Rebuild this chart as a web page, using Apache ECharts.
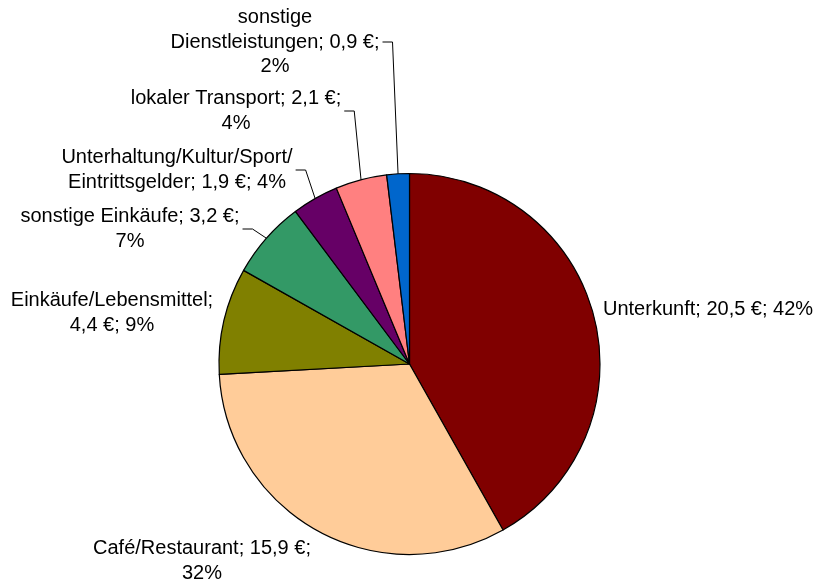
<!DOCTYPE html>
<html>
<head>
<meta charset="utf-8">
<script src="https://cdn.jsdelivr.net/npm/echarts@6/dist/echarts.min.js"></script>
<style>
  html, body { margin: 0; padding: 0; background: #ffffff; }
  #chart { width: 814px; height: 585px; }
</style>
</head>
<body>
<div id="chart"></div>
<script>
// Spending per category (€), clockwise from 12 o'clock
const categories = [
  'Unterkunft',
  'Café/Restaurant',
  'Einkäufe/Lebensmittel',
  'sonstige Einkäufe',
  'Unterhaltung/Kultur/Sport/\nEintrittsgelder',
  'lokaler Transport',
  'sonstige\nDienstleistungen'
];
const spending = [20.54, 15.86, 4.44, 3.24, 1.94, 2.14, 0.94];
const sliceColors = ['#800000', '#FFCC99', '#808000', '#339966', '#660066', '#FF8080', '#0066CC'];

// How each label wraps: {b} name, {v} value, {p} percent
const labelTemplates = [
  '{b}; {v} €; {p}%',
  '{b}; {v} €;\n{p}%',
  '{b};\n{v} €; {p}%',
  '{b}; {v} €;\n{p}%',
  '{b}; {v} €; {p}%',
  '{b}; {v} €;\n{p}%',
  '{b}; {v} €;\n{p}%'
];

// Label anchor [x, y, align, hasLeader]
const labelSpots = [
  [603, 309, 'left', false],
  [202, 561, 'center', false],
  [112, 313, 'center', false],
  [130, 229, 'center', true],
  [177, 170, 'center', true],
  [236, 111, 'center', true],
  [275, 42, 'center', true]
];

const total = spending.reduce((a, b) => a + b, 0);
const fmtValue = v => v.toFixed(1).replace('.', ',');

const seriesData = categories.map((name, i) => ({
  name: name,
  value: spending[i],
  itemStyle: { color: sliceColors[i] },
  labelLine: { show: labelSpots[i][3] }
}));

const chart = echarts.init(document.getElementById('chart'), null, { renderer: 'canvas' });

chart.setOption({
  animation: false,
  backgroundColor: '#ffffff',
  series: [{
    type: 'pie',
    center: [409.5, 364],
    radius: 190.5,
    startAngle: 90,
    clockwise: true,
    avoidLabelOverlap: false,
    data: seriesData,
    itemStyle: { borderColor: '#000000', borderWidth: 1.2 },
    emphasis: { disabled: true },
    label: {
      show: true,
      position: 'outside',
      fontFamily: 'Liberation Sans, Arial, sans-serif',
      fontSize: 20,
      lineHeight: 24.5,
      color: '#000000',
      formatter: p => labelTemplates[p.dataIndex]
        .replace('{b}', p.name)
        .replace('{v}', fmtValue(p.value))
        .replace('{p}', Math.round(p.value / total * 100))
    },
    labelLine: {
      lineStyle: { color: '#000000', width: 1 }
    },
    labelLayout: function (params) {
      const s = labelSpots[params.dataIndex];
      const out = { x: s[0], y: s[1], align: s[2], verticalAlign: 'middle' };
      if (s[3] && params.labelLinePoints) {
        const w = params.labelRect.width;
        const right = s[2] === 'center' ? s[0] + w / 2 : s[0] + w;
        out.labelLinePoints = [
          params.labelLinePoints[0],
          [right + 13, s[1]],
          [right + 3, s[1]]
        ];
      }
      return out;
    }
  }]
});
</script>
</body>
</html>
